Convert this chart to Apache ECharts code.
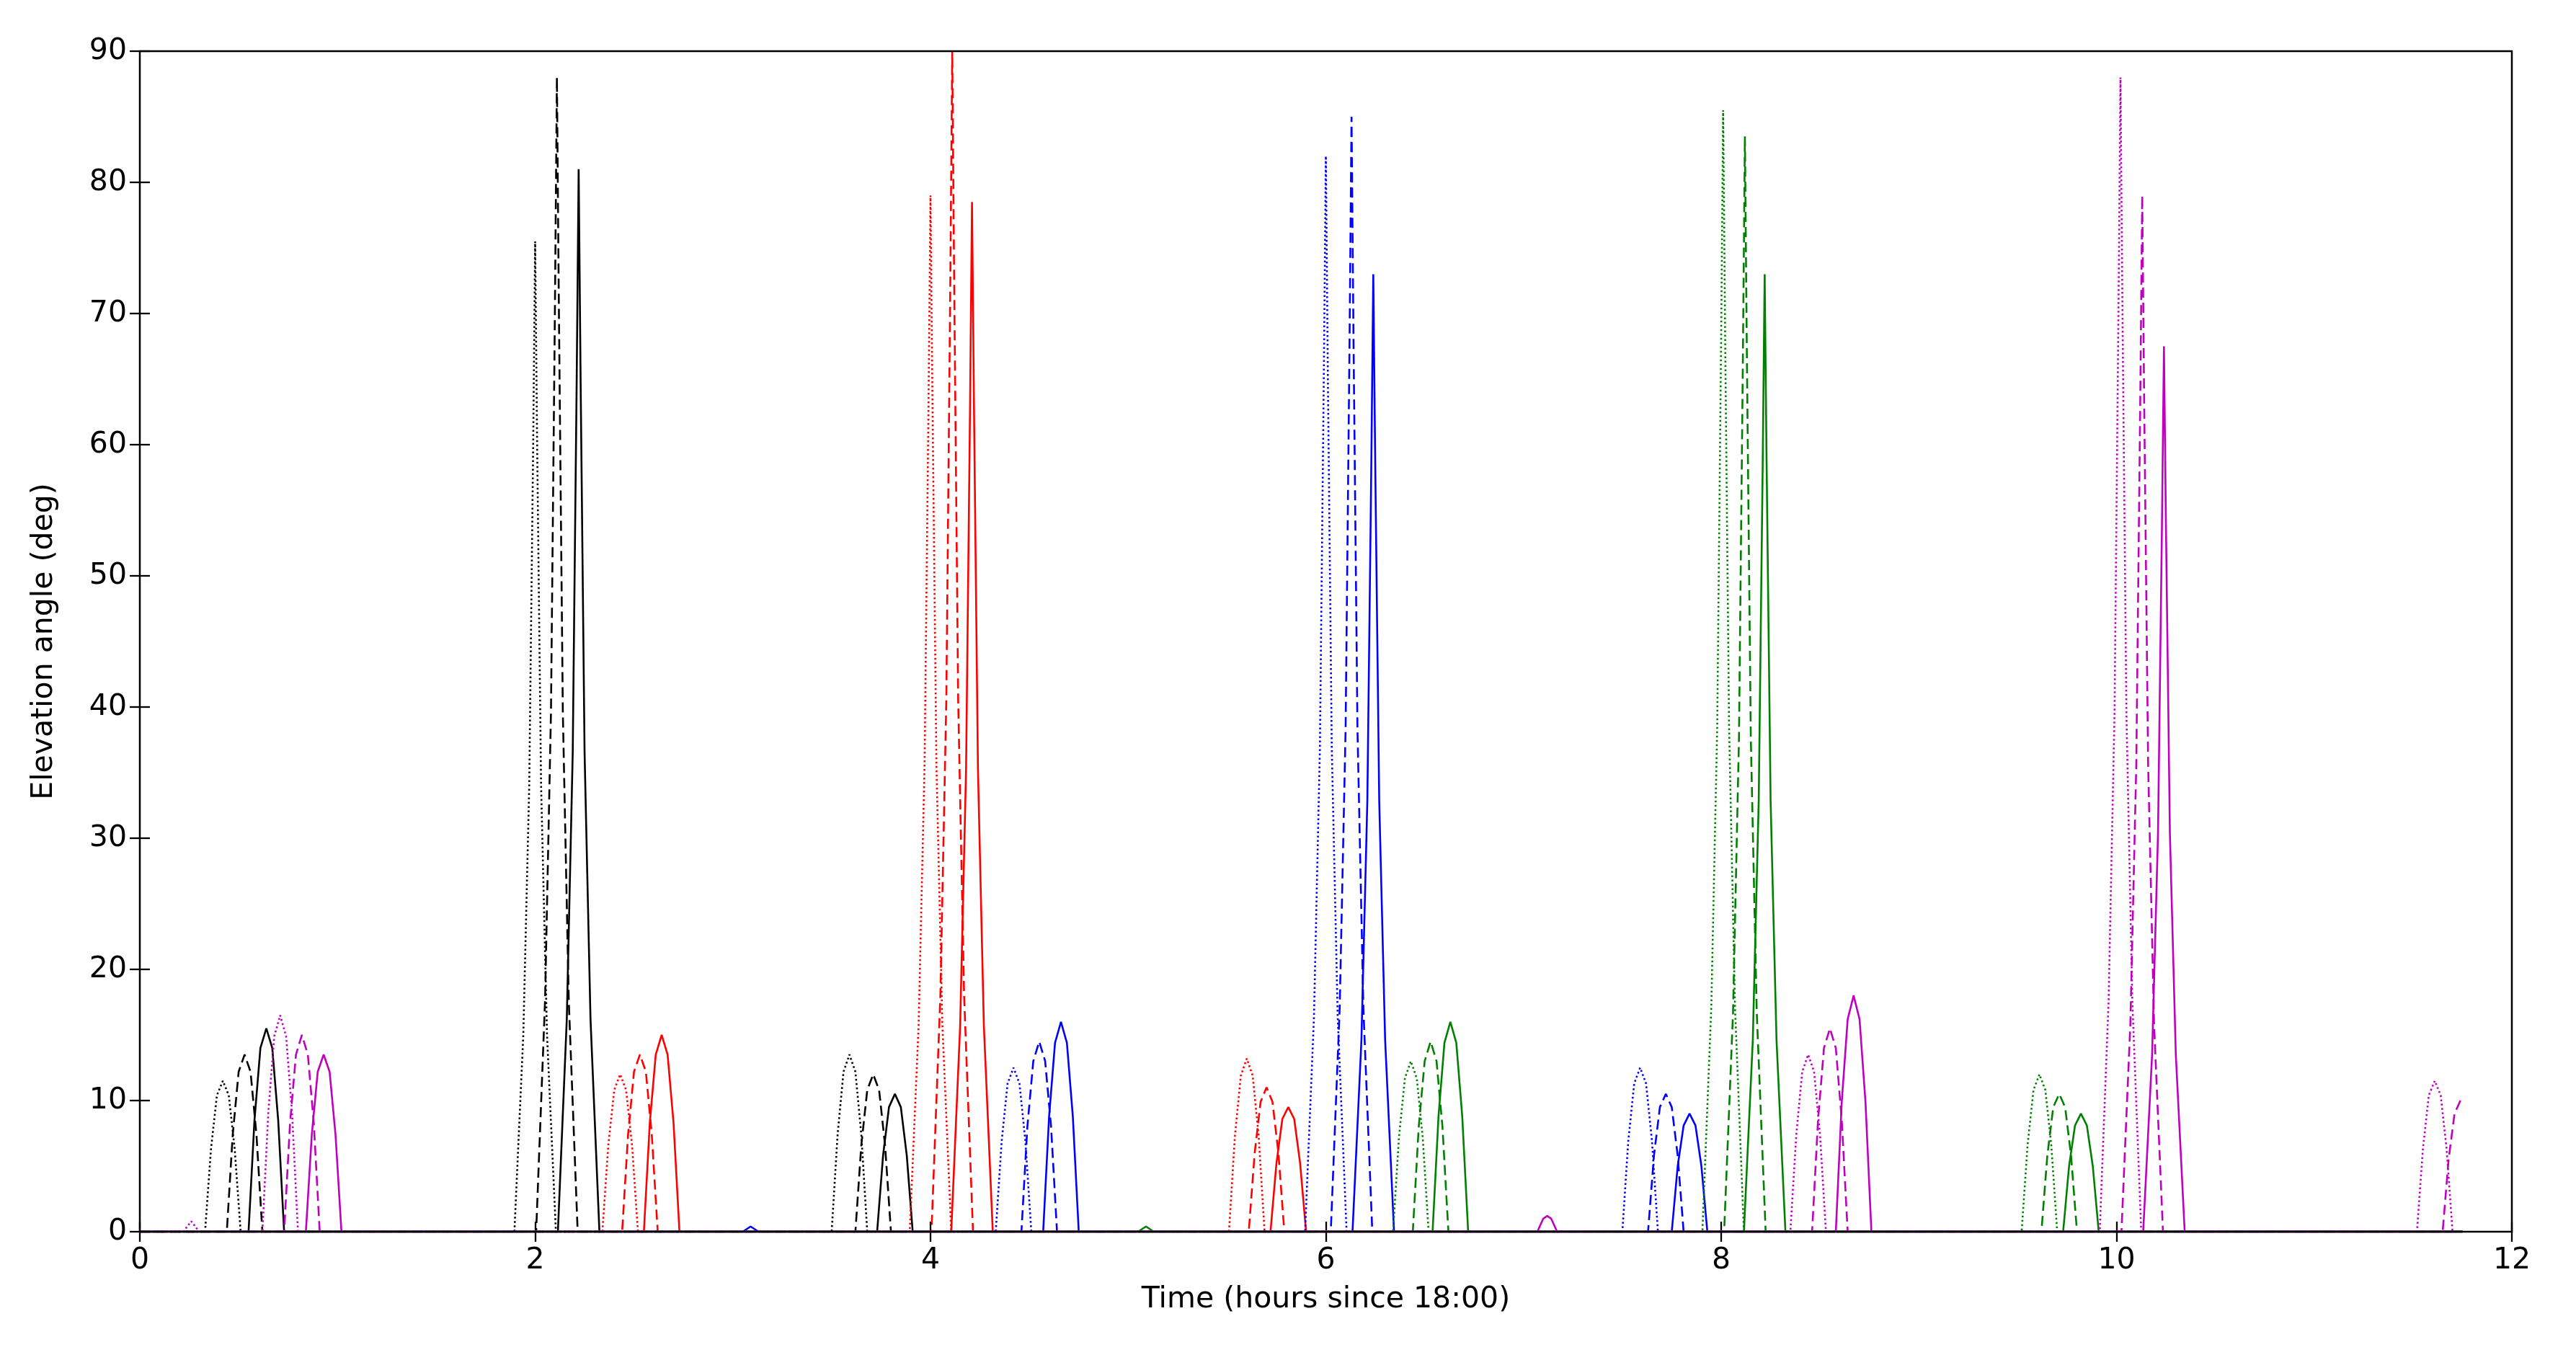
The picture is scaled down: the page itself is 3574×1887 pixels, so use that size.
<!DOCTYPE html>
<html><head><meta charset="utf-8">
<script src="https://cdn.jsdelivr.net/npm/echarts@6/dist/echarts.min.js"></script>
<style>html,body{margin:0;padding:0;background:#fff}#c{width:3574px;height:1887px}</style>
</head><body><div id="c"></div>
<script>
const xTicks=[0,2,4,6,8,10,12];
const yTicks=[0,10,20,30,40,50,60,70,80,90];
const kDotted=[[0.33,0],[0.36,6.3],[0.39,10.4],[0.42,11.5],[0.45,10.4],[0.48,6.3],[0.51,0],
[1.895,0],[1.94,15],[1.97,34],[1.99,60],[2.0,75.5],[2.01,60],[2.03,34],[2.06,15],[2.105,0],
[3.5,0],[3.53,7.4],[3.56,12.2],[3.59,13.5],[3.62,12.2],[3.65,7.4],[3.68,0]];
const kDashed=[[0.44,0],[0.47,7.4],[0.50,12.2],[0.53,13.5],[0.56,12.2],[0.59,7.4],[0.62,0],
[2.005,0],[2.05,17.6],[2.08,39.6],[2.10,70.4],[2.11,88],[2.12,70.4],[2.14,39.6],[2.17,17.6],[2.215,0],
[3.62,0],[3.65,6.6],[3.68,10.8],[3.71,12],[3.74,10.8],[3.77,6.6],[3.80,0]];
const kSolid=[[0.55,0],[0.58,8.5],[0.61,14],[0.64,15.5],[0.67,14],[0.70,8.5],[0.73,0],
[2.115,0],[2.16,16.2],[2.19,36.5],[2.21,64.8],[2.22,81],[2.23,64.8],[2.25,36.5],[2.28,16.2],[2.325,0],
[3.73,0],[3.76,5.8],[3.79,9.5],[3.82,10.5],[3.85,9.5],[3.88,5.8],[3.91,0]];
const rDotted=[[2.34,0],[2.37,6.6],[2.40,10.8],[2.43,12],[2.46,10.8],[2.49,6.6],[2.52,0],
[3.895,0],[3.94,15.8],[3.97,35.6],[3.99,63.2],[4.0,79],[4.01,63.2],[4.03,35.6],[4.06,15.8],[4.105,0],
[5.51,0],[5.54,7.3],[5.57,11.9],[5.6,13.2],[5.63,11.9],[5.66,7.3],[5.69,0]];
const rDashed=[[2.44,0],[2.47,7.4],[2.50,12.2],[2.53,13.5],[2.56,12.2],[2.59,7.4],[2.62,0],
[4.005,0],[4.05,18],[4.08,40.5],[4.10,72],[4.11,90],[4.12,72],[4.14,40.5],[4.17,18],[4.215,0],
[5.61,0],[5.64,6],[5.67,9.9],[5.7,11],[5.73,9.9],[5.76,6],[5.79,0]];
const rSolid=[[2.55,0],[2.58,8.3],[2.61,13.5],[2.64,15],[2.67,13.5],[2.70,8.3],[2.73,0],
[4.105,0],[4.15,15.7],[4.18,35.3],[4.20,62.8],[4.21,78.5],[4.22,62.8],[4.24,35.3],[4.27,15.7],[4.315,0],
[5.72,0],[5.75,5.2],[5.78,8.6],[5.81,9.5],[5.84,8.6],[5.87,5.2],[5.90,0]];
const bDotted=[[4.33,0],[4.36,6.9],[4.39,11.3],[4.42,12.5],[4.45,11.3],[4.48,6.9],[4.51,0],
[5.895,0],[5.94,16.4],[5.97,36.9],[5.99,65.6],[6.0,82],[6.01,65.6],[6.03,36.9],[6.06,16.4],[6.105,0],
[7.5,0],[7.53,6.9],[7.56,11.3],[7.59,12.5],[7.62,11.3],[7.65,6.9],[7.68,0]];
const bDashed=[[4.46,0],[4.49,8],[4.52,13],[4.55,14.5],[4.58,13],[4.61,8],[4.64,0],
[6.025,0],[6.07,17],[6.10,38.3],[6.12,68],[6.13,85],[6.14,68],[6.16,38.3],[6.19,17],[6.235,0],
[7.63,0],[7.66,5.8],[7.69,9.5],[7.72,10.5],[7.75,9.5],[7.78,5.8],[7.81,0]];
const bSolid=[[3.05,0],[3.09,0.4],[3.13,0],
[4.57,0],[4.60,8.8],[4.63,14.4],[4.66,16],[4.69,14.4],[4.72,8.8],[4.75,0],
[6.135,0],[6.18,14.6],[6.21,32.9],[6.23,58.4],[6.24,73],[6.25,58.4],[6.27,32.9],[6.30,14.6],[6.345,0],
[7.75,0],[7.78,5],[7.81,8.1],[7.84,9],[7.87,8.1],[7.90,5],[7.93,0]];
const gDotted=[[6.34,0],[6.37,7.2],[6.40,11.7],[6.43,13],[6.46,11.7],[6.49,7.2],[6.52,0],
[7.905,0],[7.95,17.1],[7.98,38.5],[8.0,68.4],[8.01,85.5],[8.02,68.4],[8.04,38.5],[8.07,17.1],[8.115,0],
[9.52,0],[9.55,6.6],[9.58,10.8],[9.61,12],[9.64,10.8],[9.67,6.6],[9.70,0]];
const gDashed=[[6.44,0],[6.47,8],[6.50,13],[6.53,14.5],[6.56,13],[6.59,8],[6.62,0],
[8.015,0],[8.06,16.7],[8.09,37.6],[8.11,66.8],[8.12,83.5],[8.13,66.8],[8.15,37.6],[8.18,16.7],[8.225,0],
[9.62,0],[9.65,5.8],[9.68,9.5],[9.71,10.5],[9.74,9.5],[9.77,5.8],[9.80,0]];
const gSolid=[[5.05,0],[5.09,0.4],[5.13,0],
[6.54,0],[6.57,8.8],[6.60,14.4],[6.63,16],[6.66,14.4],[6.69,8.8],[6.72,0],
[8.115,0],[8.16,14.6],[8.19,32.9],[8.21,58.4],[8.22,73],[8.23,58.4],[8.25,32.9],[8.28,14.6],[8.325,0],
[9.73,0],[9.76,5],[9.79,8.1],[9.82,9],[9.85,8.1],[9.88,5],[9.91,0]];
const mDotted=[[0.22,0],[0.26,0.8],[0.30,0],
[0.62,0],[0.65,9.1],[0.68,14.9],[0.71,16.5],[0.74,14.9],[0.77,9.1],[0.80,0],
[8.35,0],[8.38,7.4],[8.41,12.2],[8.44,13.5],[8.47,12.2],[8.50,7.4],[8.53,0],
[9.915,0],[9.96,17.6],[9.99,39.6],[10.01,70.4],[10.02,88],[10.03,70.4],[10.05,39.6],[10.08,17.6],[10.125,0],
[11.52,0],[11.55,6.3],[11.58,10.4],[11.61,11.5],[11.64,10.4],[11.67,6.3],[11.70,0]];
const mDashed=[[0.73,0],[0.76,8.3],[0.79,13.5],[0.82,15],[0.85,13.5],[0.88,8.3],[0.91,0],
[8.46,0],[8.49,8.5],[8.52,14],[8.55,15.5],[8.58,14],[8.61,8.5],[8.64,0],
[10.025,0],[10.07,15.8],[10.10,35.6],[10.12,63.2],[10.13,79],[10.14,63.2],[10.16,35.6],[10.19,15.8],[10.235,0],
[11.65,0],[11.68,5.5],[11.71,9],[11.74,10],[11.75,9.8]];
const mSolid=[[0.84,0],[0.87,7.4],[0.90,12.2],[0.93,13.5],[0.96,12.2],[0.99,7.4],[1.02,0],
[7.07,0],[7.10,1],[7.12,1.2],[7.14,1],[7.17,0],
[8.58,0],[8.61,9.9],[8.64,16.2],[8.67,18],[8.70,16.2],[8.73,9.9],[8.76,0],
[10.135,0],[10.18,13.5],[10.21,30.4],[10.23,54],[10.24,67.5],[10.25,54],[10.27,30.4],[10.30,13.5],[10.345,0]];
const T0=0, T1=11.75;
const seriesDefs=[
 ['k:',kDotted,'#000','dotted'],['k--',kDashed,'#000','dashed'],['k-',kSolid,'#000','solid'],
 ['r:',rDotted,'#ff0000','dotted'],['r--',rDashed,'#ff0000','dashed'],['r-',rSolid,'#ff0000','solid'],
 ['b:',bDotted,'#0000ff','dotted'],['b--',bDashed,'#0000ff','dashed'],['b-',bSolid,'#0000ff','solid'],
 ['g:',gDotted,'#008000','dotted'],['g--',gDashed,'#008000','dashed'],['g-',gSolid,'#008000','solid'],
 ['m:',mDotted,'#bf00bf','dotted'],['m--',mDashed,'#bf00bf','dashed'],['m-',mSolid,'#bf00bf','solid']];
const series=seriesDefs.map(([n,d,c,t])=>{
  const data=[[T0,0]].concat(d);
  if(d[d.length-1][0]<T1) data.push([T1,0]);
  return {name:n,type:'line',data,showSymbol:false,smooth:false,clip:true,
    lineStyle:{color:c,width:2.6,type:t==='dashed'?[14,7]:(t==='dotted'?[2.5,3.5]:'solid')},z:2};
});
const font='DejaVu Sans';
const chart=echarts.init(document.getElementById('c'),null,{renderer:'canvas'});
chart.setOption({
  animation:false,backgroundColor:'#fff',
  grid:{left:194,right:89,top:71,bottom:178,show:true,borderColor:'#000',borderWidth:2.5,z:5},
  xAxis:[{type:'value',min:0,max:12,interval:2,name:'Time (hours since 18:00)',nameLocation:'middle',nameGap:74,
    nameTextStyle:{fontFamily:font,fontSize:41,color:'#000'},
    axisLine:{show:false},axisTick:{inside:true,length:14,lineStyle:{color:'#000',width:2.3}},
    axisLabel:{fontFamily:font,fontSize:41,color:'#000',margin:20},splitLine:{show:false}},
    {type:'value',position:'top',min:0,max:12,interval:2,axisLine:{show:false},
    axisTick:{inside:true,length:14,lineStyle:{color:'#000',width:2.3}},axisLabel:{show:false},splitLine:{show:false}}],
  yAxis:[{type:'value',min:0,max:90,interval:10,name:'Elevation angle (deg)',nameLocation:'middle',nameGap:112,
    nameTextStyle:{fontFamily:font,fontSize:41,color:'#000'},
    axisLine:{show:false},axisTick:{inside:true,length:14,lineStyle:{color:'#000',width:2.3}},
    axisLabel:{fontFamily:font,fontSize:41,color:'#000',margin:18},splitLine:{show:false}},
    {type:'value',position:'right',min:0,max:90,interval:10,axisLine:{show:false},
    axisTick:{inside:true,length:14,lineStyle:{color:'#000',width:2.3}},axisLabel:{show:false},splitLine:{show:false}}],
  series
});
</script></body></html>
